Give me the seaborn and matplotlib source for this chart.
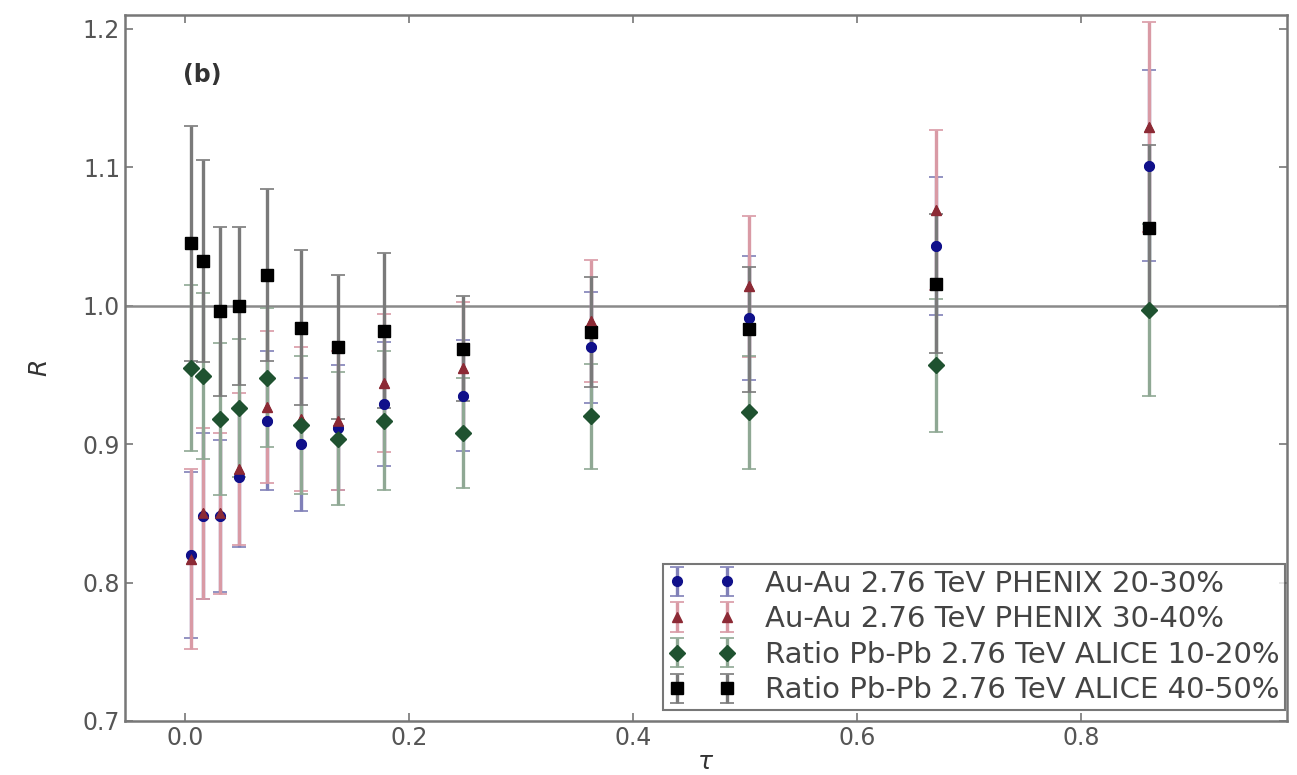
import matplotlib
matplotlib.use("Agg")
import matplotlib.pyplot as plt
import seaborn as sns
import pandas as pd

# tau positions of the 13 bins
tau = [0.005, 0.016, 0.031, 0.048, 0.073, 0.103, 0.136, 0.177, 0.248, 0.362, 0.503, 0.670, 0.861]

# PHENIX Au-Au 20-30%
blue_r = [0.820, 0.848, 0.848, 0.876, 0.917, 0.900, 0.912, 0.929, 0.935, 0.970, 0.991, 1.043, 1.101]
blue_err = [0.060, 0.060, 0.055, 0.050, 0.050, 0.048, 0.045, 0.045, 0.040, 0.040, 0.045, 0.050, 0.069]
# PHENIX Au-Au 30-40%
red_r = [0.817, 0.850, 0.850, 0.882, 0.927, 0.918, 0.917, 0.944, 0.955, 0.989, 1.014, 1.069, 1.129]
red_err = [0.065, 0.062, 0.058, 0.055, 0.055, 0.052, 0.050, 0.050, 0.048, 0.044, 0.051, 0.058, 0.076]
# ALICE Pb-Pb 10-20%
green_r = [0.955, 0.949, 0.918, 0.926, 0.948, 0.914, 0.904, 0.917, 0.908, 0.920, 0.923, 0.957, 0.997]
green_err = [0.060, 0.060, 0.055, 0.050, 0.050, 0.050, 0.048, 0.050, 0.040, 0.038, 0.041, 0.048, 0.062]
# ALICE Pb-Pb 40-50%
black_r = [1.045, 1.032, 0.996, 1.000, 1.022, 0.984, 0.970, 0.982, 0.969, 0.981, 0.983, 1.016, 1.056]
black_err = [0.085, 0.073, 0.061, 0.057, 0.062, 0.056, 0.052, 0.056, 0.038, 0.040, 0.045, 0.050, 0.060]

labels = ["Au-Au 2.76 TeV PHENIX 20-30%",
          "Au-Au 2.76 TeV PHENIX 30-40%",
          "Ratio Pb-Pb 2.76 TeV ALICE 10-20%",
          "Ratio Pb-Pb 2.76 TeV ALICE 40-50%"]

sns.set_style("ticks")
plt.rcParams['font.family'] = ['DejaVu Sans']

series = [
    (blue_r, blue_err, "#10108a", "#8080b8", "o", 7),
    (red_r, red_err, "#8c2a35", "#d99aa5", "^", 7),
    (green_r, green_err, "#1f5230", "#8fa894", "D", 8),
    (black_r, black_err, "#000000", "#7a7a7a", "s", 9),
]

rows = []
for lab, (vals, errs, *_rest) in zip(labels, series):
    for t, v, e in zip(tau, vals, errs):
        rows.append({"tau": t, "R": v, "err": e, "set": lab})
df = pd.DataFrame(rows)

fig = plt.figure(figsize=(12.97, 7.75), dpi=100)
ax = fig.add_axes([0.0964, 0.0697, 0.8959, 0.9109])

ax.axhline(1.0, color="#8a8a8a", lw=1.8, zorder=1)

for lab, (vals, errs, col, ecol, mk, ms) in zip(labels, series):
    sub = df[df["set"] == lab]
    ax.errorbar(sub["tau"], sub["R"], yerr=sub["err"], fmt=mk, color=col,
                ecolor=ecol, elinewidth=2.4, capsize=5, capthick=1.2,
                markersize=ms, mec=col, label=lab, zorder=2)
    sns.scatterplot(data=sub, x="tau", y="R", marker=mk, color=col,
                    s=ms ** 2, edgecolor=col, linewidth=0.5, legend=False,
                    ax=ax, zorder=3)

ax.set_xlim(-0.054, 0.984)
ax.set_ylim(0.7, 1.21)
ax.set_xticks([0.0, 0.2, 0.4, 0.6, 0.8])
ax.set_yticks([0.7, 0.8, 0.9, 1.0, 1.1, 1.2])
ax.set_xlabel(r"$\tau$", fontsize=18, color="#333333", labelpad=0)
ax.set_ylabel(r"$R$", fontsize=18, color="#333333", labelpad=22)

for sp in ax.spines.values():
    sp.set_color("#777777")
    sp.set_linewidth(1.8)
ax.tick_params(direction="in", top=True, right=True, length=6,
               width=1.2, colors="#777777", labelsize=17, labelcolor="#555555")

ax.text(-0.002, 1.167, "(b)", fontsize=17, fontweight="bold", color="#333333",
        ha="left", va="center")

leg = ax.legend(loc="lower right", numpoints=2, fontsize=21, frameon=True,
                fancybox=False, borderpad=0.18, labelspacing=0.26,
                handlelength=2.3, handletextpad=1.0,
                bbox_to_anchor=(0.998, 0.016), borderaxespad=0.0)
leg.get_frame().set_edgecolor("#555555")
leg.get_frame().set_linewidth(1.5)
for t in leg.get_texts():
    t.set_color("#444444")

fig.savefig("out.png", dpi=100)
